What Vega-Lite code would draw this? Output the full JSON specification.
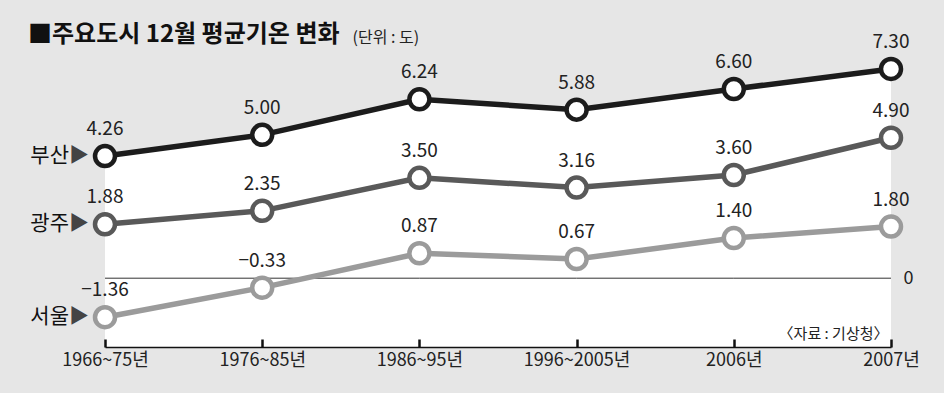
{
  "$schema": "https://vega.github.io/schema/vega-lite/v6.json",
  "width": 786,
  "height": 301,
  "autosize": {"type": "none"},
  "padding": {"left": 105, "top": 46, "right": 53, "bottom": 46},
  "background": "#e6e6e6",
  "config": {
    "view": {"stroke": null},
    "font": "Noto Sans CJK KR",
    "axis": {"labelFont": "Noto Sans CJK KR", "titleFont": "Noto Sans CJK KR"}
  },
  "title": {
    "text": "■주요도시 12월 평균기온 변화",
    "anchor": "start",
    "frame": "group",
    "dx": -77,
    "offset": -18,
    "fontSize": 24,
    "fontWeight": "bold",
    "color": "#111111",
    "font": "Noto Sans CJK KR"
  },
  "data": {
    "values": [
      {"period": "1966~75년", "city": "부산", "temp": 4.26},
      {"period": "1976~85년", "city": "부산", "temp": 5.00},
      {"period": "1986~95년", "city": "부산", "temp": 6.24},
      {"period": "1996~2005년", "city": "부산", "temp": 5.88},
      {"period": "2006년", "city": "부산", "temp": 6.60},
      {"period": "2007년", "city": "부산", "temp": 7.30},
      {"period": "1966~75년", "city": "광주", "temp": 1.88},
      {"period": "1976~85년", "city": "광주", "temp": 2.35},
      {"period": "1986~95년", "city": "광주", "temp": 3.50},
      {"period": "1996~2005년", "city": "광주", "temp": 3.16},
      {"period": "2006년", "city": "광주", "temp": 3.60},
      {"period": "2007년", "city": "광주", "temp": 4.90},
      {"period": "1966~75년", "city": "서울", "temp": -1.36},
      {"period": "1976~85년", "city": "서울", "temp": -0.33},
      {"period": "1986~95년", "city": "서울", "temp": 0.87},
      {"period": "1996~2005년", "city": "서울", "temp": 0.67},
      {"period": "2006년", "city": "서울", "temp": 1.40},
      {"period": "2007년", "city": "서울", "temp": 1.80}
    ]
  },
  "encoding": {
    "x": {
      "field": "period", "type": "ordinal",
      "sort": ["1966~75년", "1976~85년", "1986~95년", "1996~2005년", "2006년", "2007년"],
      "scale": {"type": "point", "padding": 0},
      "axis": {
        "orient": "bottom", "labelAngle": 0, "grid": false,
        "domain": true, "domainColor": "#111111", "domainWidth": 1.5,
        "ticks": true, "tickSize": -8, "tickColor": "#111111", "tickWidth": 2.5,
        "labelPadding": 12, "labelFontSize": 18, "labelColor": "#222222", "labelBaseline": "top",
        "title": "〈자료 : 기상청〉", "titleX": 783, "titleY": -9, "titleAlign": "right", "titleAnchor": null,
        "titleBaseline": "alphabetic", "titleFontSize": 15, "titleFontWeight": "normal", "titleColor": "#222222",
        "zindex": 1
      }
    },
    "y": {
      "field": "temp", "type": "quantitative",
      "scale": {"domain": [-2.4, 8.1], "nice": false, "zero": false},
      "axis": {
        "orient": "right", "values": [0], "grid": false, "domain": false, "ticks": false,
        "labelPadding": 12, "labelFontSize": 18, "labelColor": "#222222",
        "title": "(단위 : 도)", "titleX": -539, "titleY": -4, "titleAngle": 0, "titleAlign": "left",
        "titleBaseline": "alphabetic", "titleFontSize": 16, "titleFontWeight": "normal", "titleColor": "#222222"
      }
    }
  },
  "layer": [
    {
      "transform": [{"filter": "datum.city === '부산'"}],
      "mark": {"type": "area", "fill": "white", "opacity": 1},
      "encoding": {
        "y2": {"datum": -2.4}
      }
    },
    {
      "transform": [{"filter": "datum.city === '부산'"}],
      "mark": {"type": "line", "color": "#333333", "strokeWidth": 1},
      "encoding": {
        "y": {
          "datum": 0, "type": "quantitative",
          "scale": {"domain": [-2.4, 8.1], "nice": false, "zero": false},
          "axis": {
            "orient": "right", "values": [0], "grid": false, "domain": false, "ticks": false,
            "labelPadding": 12, "labelFontSize": 18, "labelColor": "#222222",
            "title": "(단위 : 도)", "titleX": -539, "titleY": -4, "titleAngle": 0, "titleAlign": "left",
            "titleBaseline": "alphabetic", "titleFontSize": 16, "titleFontWeight": "normal", "titleColor": "#222222"
          }
        }
      }
    },
    {
      "mark": {"type": "line", "strokeWidth": 5.5},
      "encoding": {
        "color": {"field": "city", "type": "nominal", "scale": {"domain": ["부산", "광주", "서울"], "range": ["#1c1c1c", "#595959", "#9b9b9b"]}, "legend": null}
      }
    },
    {
      "mark": {"type": "circle", "fill": "white", "size": 400, "strokeWidth": 4.5, "opacity": 1},
      "encoding": {
        "stroke": {"field": "city", "type": "nominal", "scale": {"domain": ["부산", "광주", "서울"], "range": ["#1c1c1c", "#595959", "#9b9b9b"]}, "legend": null}
      }
    },
    {
      "mark": {"type": "text", "fontSize": 19, "color": "#222222", "baseline": "alphabetic", "dy": -21},
      "encoding": {
        "text": {"field": "temp", "type": "quantitative", "format": ".2f"}
      }
    },
    {
      "transform": [{"filter": "datum.period === '1966~75년'"}],
      "mark": {"type": "text", "fontSize": 21, "color": "#111111", "align": "right", "baseline": "middle", "dx": -36},
      "encoding": {
        "text": {"field": "city", "type": "nominal"}
      }
    },
    {
      "transform": [{"filter": "datum.period === '1966~75년'"}],
      "mark": {"type": "text", "fontSize": 20, "color": "#444444", "align": "right", "baseline": "middle", "dx": -16, "text": "▶"}
    }
  ]
}
